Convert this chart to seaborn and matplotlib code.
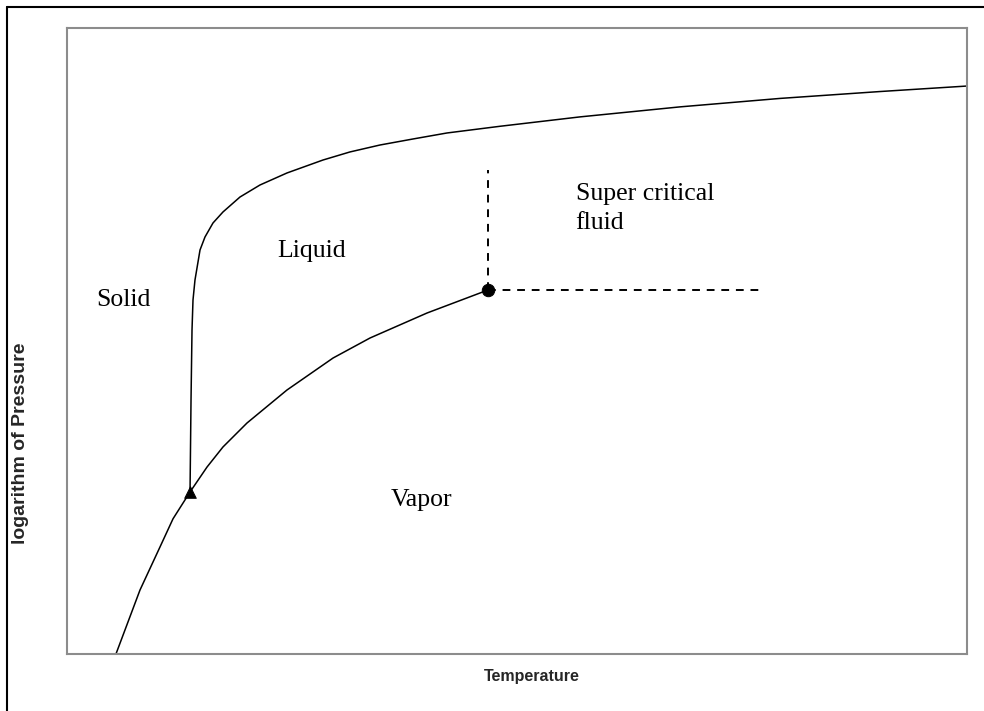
import matplotlib
matplotlib.use("Agg")
import matplotlib.pyplot as plt
import seaborn as sns
from matplotlib.lines import Line2D

sns.set_style("white")

# vapor pressure curve (sublimation + vaporization), up to the critical point
vap_T = [5.44, 8.11, 10.33, 11.78, 13.67, 15.56, 17.33, 20.0, 24.44, 29.56, 33.67, 40.0, 46.78]
vap_P = [0.0, 10.22, 17.09, 21.6, 25.88, 29.87, 33.07, 36.9, 42.17, 47.28, 50.48, 54.47, 58.15]

# melting curve
melt_T = [13.67, 13.78, 13.89, 14.0, 14.22, 14.78, 15.33, 16.22, 17.33, 19.22, 21.44,
          24.44, 28.44, 31.44, 34.78, 38.44, 42.22, 48.11, 57.0, 68.11, 79.22, 90.33, 100.0]
melt_P = [25.88, 40.58, 51.76, 56.55, 59.74, 64.54, 66.61, 68.85, 70.61, 73.0, 74.92,
          76.84, 78.91, 80.2, 81.31, 82.27, 83.23, 84.3, 85.8, 87.4, 88.75, 89.85, 90.73]

triple_T, triple_P = 13.67, 25.88
crit_T, crit_P = 46.78, 58.15
crit_top_P = 77.3
crit_right_T = 77.2

fig = plt.figure(figsize=(9.84, 7.11), dpi=100)
ax = fig.add_axes([67 / 984, 1 - 654 / 711, 900 / 984, 626 / 711])

sns.lineplot(x=vap_T, y=vap_P, sort=False, estimator=None, color="black", lw=1.1, ax=ax)
sns.lineplot(x=melt_T, y=melt_P, sort=False, estimator=None, color="black", lw=1.1, ax=ax)

# dashed boundaries of the supercritical region
ax.plot([crit_T, crit_T], [crit_P, crit_top_P], color="black", lw=1.4, linestyle=(0, (4, 3.5)))
ax.plot([crit_T, crit_right_T], [crit_P, crit_P], color="black", lw=1.4, linestyle=(0, (4, 3.5)))

sns.scatterplot(x=[triple_T], y=[triple_P], marker="^", s=70, color="black", edgecolor="black", ax=ax, zorder=5)
sns.scatterplot(x=[crit_T], y=[crit_P], marker="o", s=80, color="black", edgecolor="black", ax=ax, zorder=5)

ax.set_xlim(0, 100)
ax.set_ylim(0, 100)
ax.set_xticks([])
ax.set_yticks([])
for s in ax.spines.values():
    s.set_color("#8c8c8c")
    s.set_linewidth(1.5)

serif = dict(family="Liberation Serif", fontsize=18.5, color="black")
ax.text(6.3, 55.6, "Solid", ha="center", va="baseline", **serif)
ax.text(27.2, 63.4, "Liquid", ha="center", va="baseline", **serif)
ax.text(56.5, 67.9, "Super critical\nfluid", ha="left", va="baseline", linespacing=1.38, **serif)
ax.text(39.4, 23.6, "Vapor", ha="center", va="baseline", **serif)

fig.text(532 / 984, 1 - 676 / 711, "Temperature", ha="center", va="center",
         family="Liberation Sans", fontweight="bold", fontsize=11.5)
fig.text(21 / 984, 1 - 443 / 711, "logarithm of Pressure", ha="center", va="center",
         rotation=90, family="Liberation Sans", fontweight="bold", fontsize=14)

# outer border (only left and top edges fall inside the image)
fig.add_artist(Line2D([7 / 984, 7 / 984], [0, 1 - 7 / 711], color="black", lw=1.5))
fig.add_artist(Line2D([7 / 984, 1], [1 - 7 / 711, 1 - 7 / 711], color="black", lw=1.5))

fig.savefig("out.png", dpi=100, facecolor="white")
